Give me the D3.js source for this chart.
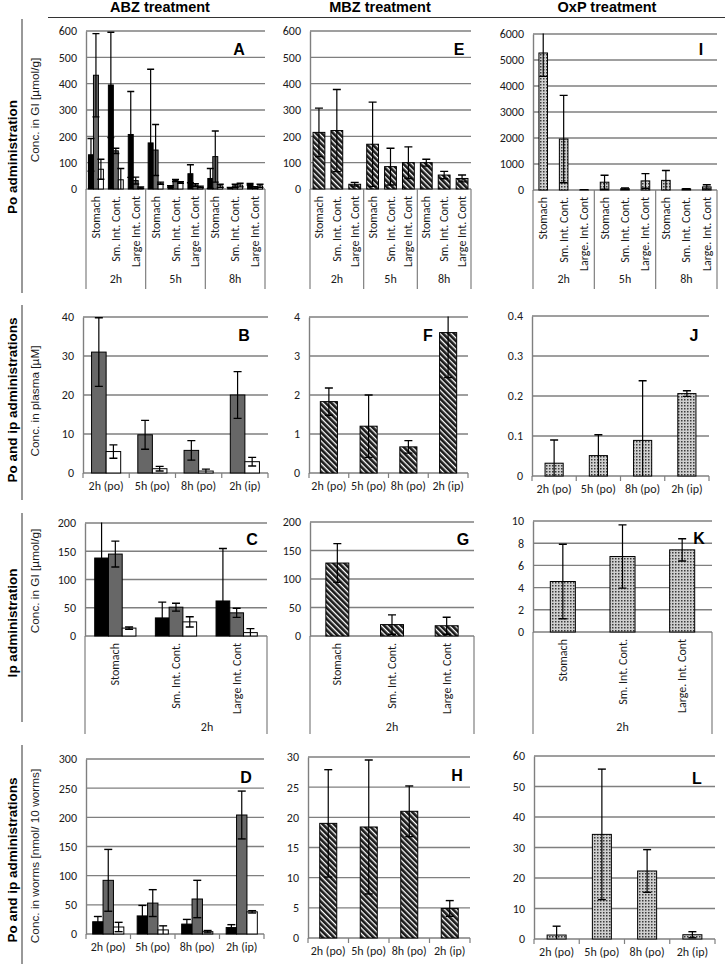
<!DOCTYPE html>
<html><head><meta charset="utf-8">
<script src="https://cdn.jsdelivr.net/npm/d3@7"></script>
<style>body{margin:0;background:#fff}svg{display:block}</style>
</head><body>
<svg id="c" width="725" height="964"></svg>
<script>
// ---------- labels ----------
const treatments = ["ABZ treatment", "MBZ treatment", "OxP treatment"];
const rowTitles = ["Po administration", "Po and ip administrations", "Ip administration", "Po and ip administrations"];
const yTitles = ["Conc. in GI [µmol/g]", "Conc. in plasma [µM]", "Conc. in GI [µmol/g]", "Conc. in worms [nmol/ 10 worms]"];
const giSites = ["Stomach", "Sm. Int. Cont.", "Large Int. Cont"];
const giSitesOxP = ["Stomach", "Sm. Int. Cont.", "Large. Int. Cont"];
const hours = ["2h", "5h", "8h"];
const hoursIp = ["2h"];
const timepoints = ["2h (po)", "5h (po)", "8h (po)", "2h (ip)"];

// ---------- tick values ----------
const ticksA = [0, 100, 200, 300, 400, 500, 600];
const ticksE = [0, 100, 200, 300, 400, 500, 600];
const ticksI = [0, 1000, 2000, 3000, 4000, 5000, 6000];
const ticksB = [0, 10, 20, 30, 40];
const ticksF = [0, 1, 2, 3, 4];
const ticksJ = [0, 0.1, 0.2, 0.3, 0.4];
const ticksC = [0, 50, 100, 150, 200];
const ticksG = [0, 50, 100, 150, 200];
const ticksK = [0, 2, 4, 6, 8, 10];
const ticksD = [0, 50, 100, 150, 200, 250, 300];
const ticksH = [0, 5, 10, 15, 20, 25, 30];
const ticksL = [0, 10, 20, 30, 40, 50, 60];

// ---------- values (mean) and SD ----------
// A: ABZ po, GI (2h,5h,8h x Stomach, Sm, Large) - three series
const A_s1 = [130, 395, 207, 175, 10, 58, 40, 3, 18];
const A_s1_sd = [62, 200, 163, 280, 3, 34, 38, 3, 3];
const A_s2 = [432, 145, 32, 148, 32, 15, 123, 12, 5];
const A_s2_sd = [158, 10, 13, 97, 4, 5, 97, 6, 4];
const A_s3 = [75, 35, 5, 22, 25, 8, 12, 15, 12];
const A_s3_sd = [38, 43, 3, 4, 3, 3, 6, 7, 6];
// E: MBZ po, GI
const E_v = [215, 222, 18, 170, 85, 100, 100, 53, 40];
const E_sd = [92, 156, 7, 160, 70, 60, 13, 14, 13];
// I: OxP po, GI
const I_v = [5270, 1960, 5, 300, 50, 350, 370, 40, 120];
const I_sd = [900, 1680, 5, 270, 30, 280, 380, 10, 80];
// B: ABZ plasma
const B_s2 = [31, 9.8, 5.8, 20];
const B_s2_sd = [8.8, 3.7, 2.5, 6];
const B_s3 = [5.5, 1.1, 0.5, 2.9];
const B_s3_sd = [1.7, 0.6, 0.5, 1.1];
// F: MBZ plasma
const F_v = [1.83, 1.2, 0.67, 3.6];
const F_sd = [0.35, 0.8, 0.16, 1.15];
// J: OxP plasma
const J_v = [0.032, 0.051, 0.089, 0.206];
const J_sd = [0.058, 0.052, 0.149, 0.007];
// C: ABZ ip, GI
const C_s1 = [138, 32, 62];
const C_s1_sd = [70, 28, 93];
const C_s2 = [145, 51, 41];
const C_s2_sd = [23, 7, 8];
const C_s3 = [14, 25, 6];
const C_s3_sd = [2, 9, 7];
// G: MBZ ip, GI
const G_v = [128, 20, 18];
const G_sd = [34, 17, 15];
// K: OxP ip, GI
const K_v = [4.55, 6.8, 7.4];
const K_sd = [3.35, 2.85, 1.0];
// D: ABZ worms
const D_s1 = [21, 31, 17, 11];
const D_s1_sd = [9, 18, 8, 5];
const D_s2 = [92, 53, 60, 204];
const D_s2_sd = [53, 23, 32, 41];
const D_s3 = [12, 7, 4, 38];
const D_s3_sd = [8, 7, 2, 2];
// H: MBZ worms
const H_v = [19, 18.4, 21, 4.9];
const H_sd = [8.9, 11.1, 4.2, 1.3];
// L: OxP worms
const L_v = [1.3, 34.3, 22.3, 1.4];
const L_sd = [2.9, 21.4, 7, 1];

// ---------- drawing ----------
const svg = d3.select("#c");
const SANS = "'Liberation Sans', Arial, sans-serif";
const CAL = "Carlito, Calibri, Lato, 'Open Sans', sans-serif";
const GRID = "#7f7f7f";

const defs = svg.append("defs");
const hatch = defs.append("pattern").attr("id", "hatch").attr("patternUnits", "userSpaceOnUse")
  .attr("width", 4).attr("height", 4).attr("patternTransform", "rotate(45)");
hatch.append("rect").attr("width", 4).attr("height", 4).attr("fill", "#1a1a1a");
hatch.append("rect").attr("width", 4).attr("height", 1.3).attr("fill", "#ffffff");
const dots = defs.append("pattern").attr("id", "dots").attr("patternUnits", "userSpaceOnUse")
  .attr("width", 3).attr("height", 3);
dots.append("rect").attr("width", 3).attr("height", 3).attr("fill", "#cfcfcf");
dots.append("rect").attr("width", 1.5).attr("height", 1.5).attr("fill", "#3c3c3c");

const FILL_BLACK = "#000000", FILL_GRAY = "#676767", FILL_WHITE = "#ffffff";
const FILL_HATCH = "url(#hatch)", FILL_DOTS = "url(#dots)";

let clipId = 0;
function panel(p) {
  const g = svg.append("g");
  const y = d3.scaleLinear().domain([0, p.max]).range([p.y0, p.y1]);
  const x = d3.scaleBand().domain(p.cats.map((c, i) => i)).range([p.x0, p.x1]);
  const nS = p.series.length;
  const bw = x.bandwidth() * p.frac / nS;
  const off = x.bandwidth() * (1 - p.frac) / 2;

  // gridlines
  g.selectAll(null).data(p.ticks.filter(t => t > 0)).join("line")
    .attr("x1", p.x0).attr("x2", p.x1)
    .attr("y1", d => y(d)).attr("y2", d => y(d))
    .attr("stroke", GRID).attr("stroke-width", 1.4);

  // y axis
  const ax = g.append("g").attr("transform", `translate(${p.x0},0)`)
    .call(d3.axisLeft(y).tickValues(p.ticks).tickSizeInner(0).tickSizeOuter(0).tickPadding(9).tickFormat(d3.format("")));
  ax.select(".domain").attr("stroke", GRID).attr("stroke-width", 1.4);
  ax.selectAll("text").attr("font-family", CAL).attr("font-size", 12).attr("fill", "#1a1a1a");

  // baseline
  g.append("line").attr("x1", p.x0).attr("x2", p.x1).attr("y1", p.y0).attr("y2", p.y0)
    .attr("stroke", GRID).attr("stroke-width", 1.4);

  // bars
  p.series.forEach((s, si) => {
    g.selectAll(null).data(s.v).join("rect")
      .attr("x", (d, i) => x(i) + off + si * bw)
      .attr("width", bw)
      .attr("y", d => y(d))
      .attr("height", d => p.y0 - y(d))
      .attr("fill", s.fill).attr("stroke", "#000").attr("stroke-width", 1);
  });

  // error bars (clipped to plot area)
  const cid = "clip" + (clipId++);
  defs.append("clipPath").attr("id", cid).append("rect")
    .attr("x", p.x0 - 20).attr("y", p.y1 - 0.5).attr("width", p.x1 - p.x0 + 40).attr("height", p.y0 - p.y1 + 0.5);
  const eg = g.append("g").attr("clip-path", `url(#${cid})`);
  const cap = p.cap || 3.5;
  p.series.forEach((s, si) => {
    s.v.forEach((v, i) => {
      const cx = x(i) + off + si * bw + bw / 2;
      const hi = y(v + s.sd[i]), lo = y(Math.max(0, v - s.sd[i]));
      eg.append("line").attr("x1", cx).attr("x2", cx).attr("y1", hi).attr("y2", lo)
        .attr("stroke", "#000").attr("stroke-width", 1.2);
      eg.append("line").attr("x1", cx - cap).attr("x2", cx + cap).attr("y1", hi).attr("y2", hi)
        .attr("stroke", "#000").attr("stroke-width", 1.4);
      if (v - s.sd[i] > 0)
        eg.append("line").attr("x1", cx - cap).attr("x2", cx + cap).attr("y1", lo).attr("y2", lo)
          .attr("stroke", "#000").attr("stroke-width", 1.4);
    });
  });

  // category axis
  if (p.mode === "flat") {
    g.selectAll(null).data(d3.range(p.cats.length + 1)).join("line")
      .attr("x1", i => p.x0 + i * x.step()).attr("x2", i => p.x0 + i * x.step())
      .attr("y1", p.y0).attr("y2", p.y0 + 5).attr("stroke", GRID).attr("stroke-width", 1.2);
    g.selectAll(null).data(p.cats).join("text")
      .attr("x", (d, i) => x(i) + x.bandwidth() / 2).attr("y", p.y0 + 17)
      .attr("text-anchor", "middle").attr("font-family", CAL).attr("font-size", 12).attr("fill", "#1a1a1a")
      .text(d => d);
  } else {
    g.selectAll(null).data(p.cats).join("text")
      .attr("transform", (d, i) => `translate(${x(i) + x.bandwidth() / 2},${p.y0 + 7}) rotate(-90)`)
      .attr("text-anchor", "end").attr("dominant-baseline", "central")
      .attr("font-family", CAL).attr("font-size", 12).attr("fill", "#1a1a1a")
      .text(d => d);
    const per = p.cats.length / p.groups.length;
    const gw = x.step() * per;
    g.selectAll(null).data(d3.range(p.groups.length + 1)).join("line")
      .attr("x1", i => p.x0 + i * gw).attr("x2", i => p.x0 + i * gw)
      .attr("y1", p.y0).attr("y2", p.gBottom).attr("stroke", GRID).attr("stroke-width", 1.2);
    g.selectAll(null).data(p.groups).join("text")
      .attr("x", (d, i) => (p.gLabelX != null ? p.gLabelX : p.x0 + (i + 0.5) * gw))
      .attr("y", p.gLabelY)
      .attr("text-anchor", "middle").attr("font-family", CAL).attr("font-size", 12).attr("fill", "#1a1a1a")
      .text(d => d);
  }

  // panel letter
  g.append("text").attr("x", p.lx).attr("y", p.ly).attr("text-anchor", "middle")
    .attr("dominant-baseline", "central").attr("font-family", SANS).attr("font-weight", "bold")
    .attr("font-size", 16).text(p.letter);
}

const gi9 = hours.flatMap(() => giSites);
const gi9x = hours.flatMap(() => giSitesOxP);

// Row 1
panel({letter: "A", lx: 239, ly: 49, x0: 86, x1: 265, y1: 31, y0: 189, max: 600, ticks: ticksA, cats: gi9, groups: hours,
  mode: "rot", gBottom: 289, gLabelY: 283, frac: 0.75, cap: 3.5,
  series: [{v: A_s1, sd: A_s1_sd, fill: FILL_BLACK}, {v: A_s2, sd: A_s2_sd, fill: FILL_GRAY}, {v: A_s3, sd: A_s3_sd, fill: FILL_WHITE}]});
panel({letter: "E", lx: 459, ly: 49, x0: 310, x1: 471, y1: 31, y0: 189, max: 600, ticks: ticksE, cats: gi9, groups: hours,
  mode: "rot", gBottom: 289, gLabelY: 283, frac: 0.66, cap: 4,
  series: [{v: E_v, sd: E_sd, fill: FILL_HATCH}]});
panel({letter: "I", lx: 701, ly: 49, x0: 533, x1: 717, y1: 34, y0: 190, max: 6000, ticks: ticksI, cats: gi9x, groups: hours,
  mode: "rot", gBottom: 289, gLabelY: 283, frac: 0.42, cap: 4,
  series: [{v: I_v, sd: I_sd, fill: FILL_DOTS}]});

// Row 2
panel({letter: "B", lx: 244, ly: 335, x0: 83, x1: 268, y1: 317, y0: 473, max: 40, ticks: ticksB, cats: timepoints,
  mode: "flat", frac: 0.63, cap: 4,
  series: [{v: B_s2, sd: B_s2_sd, fill: FILL_GRAY}, {v: B_s3, sd: B_s3_sd, fill: FILL_WHITE}]});
panel({letter: "F", lx: 428, ly: 335, x0: 309, x1: 468, y1: 317, y0: 473, max: 4, ticks: ticksF, cats: timepoints,
  mode: "flat", frac: 0.43, cap: 4,
  series: [{v: F_v, sd: F_sd, fill: FILL_HATCH}]});
panel({letter: "J", lx: 694, ly: 335, x0: 532, x1: 709, y1: 316, y0: 476, max: 0.4, ticks: ticksJ, cats: timepoints,
  mode: "flat", frac: 0.41, cap: 4,
  series: [{v: J_v, sd: J_sd, fill: FILL_DOTS}]});

// Row 3
panel({letter: "C", lx: 252, ly: 539, x0: 85, x1: 267, y1: 523, y0: 636, max: 200, ticks: ticksC, cats: giSites, groups: hoursIp,
  mode: "rot", gBottom: 734, gLabelY: 731, gLabelX: 207, frac: 0.68, cap: 4,
  series: [{v: C_s1, sd: C_s1_sd, fill: FILL_BLACK}, {v: C_s2, sd: C_s2_sd, fill: FILL_GRAY}, {v: C_s3, sd: C_s3_sd, fill: FILL_WHITE}]});
panel({letter: "G", lx: 463, ly: 539, x0: 310, x1: 474, y1: 522, y0: 636, max: 200, ticks: ticksG, cats: giSites, groups: hoursIp,
  mode: "rot", gBottom: 734, gLabelY: 731, frac: 0.42, cap: 4,
  series: [{v: G_v, sd: G_sd, fill: FILL_HATCH}]});
panel({letter: "K", lx: 699, ly: 538, x0: 533, x1: 712, y1: 521, y0: 632, max: 10, ticks: ticksK, cats: giSitesOxP, groups: hoursIp,
  mode: "rot", gBottom: 734, gLabelY: 731, frac: 0.42, cap: 4,
  series: [{v: K_v, sd: K_sd, fill: FILL_DOTS}]});

// Row 4
panel({letter: "D", lx: 246, ly: 777, x0: 86, x1: 264, y1: 759, y0: 934, max: 300, ticks: ticksD, cats: timepoints,
  mode: "flat", frac: 0.70, cap: 4,
  series: [{v: D_s1, sd: D_s1_sd, fill: FILL_BLACK}, {v: D_s2, sd: D_s2_sd, fill: FILL_GRAY}, {v: D_s3, sd: D_s3_sd, fill: FILL_WHITE}]});
panel({letter: "H", lx: 457, ly: 775, x0: 308, x1: 470, y1: 757, y0: 938, max: 30, ticks: ticksH, cats: timepoints,
  mode: "flat", frac: 0.42, cap: 4,
  series: [{v: H_v, sd: H_sd, fill: FILL_HATCH}]});
panel({letter: "L", lx: 697, ly: 778, x0: 534, x1: 715, y1: 756, y0: 939, max: 60, ticks: ticksL, cats: timepoints,
  mode: "flat", frac: 0.42, cap: 4,
  series: [{v: L_v, sd: L_sd, fill: FILL_DOTS}]});

// ---------- frame: headers, row titles, y titles ----------
const headerX = [160, 380, 607];
svg.selectAll(null).data(treatments).join("text")
  .attr("x", (d, i) => headerX[i]).attr("y", 12).attr("text-anchor", "middle")
  .attr("font-family", SANS).attr("font-weight", "bold").attr("font-size", 14.5).text(d => d);
svg.append("line").attr("x1", 48).attr("x2", 725).attr("y1", 17.5).attr("y2", 17.5).attr("stroke", "#333").attr("stroke-width", 1);

const rowSeg = [[19, 293], [305, 500], [513, 722], [745, 964]];
const rowMid = [157, 400, 623, 860];
const yTitleMid = [110, 401, 581, 856];
rowSeg.forEach((s, i) => {
  svg.append("line").attr("x1", 22).attr("x2", 22).attr("y1", s[0]).attr("y2", s[1]).attr("stroke", "#333").attr("stroke-width", 1);
});
svg.selectAll(null).data(rowTitles).join("text")
  .attr("transform", (d, i) => `translate(12,${rowMid[i]}) rotate(-90)`)
  .attr("text-anchor", "middle").attr("dominant-baseline", "central")
  .attr("font-family", SANS).attr("font-weight", "bold").attr("font-size", 13.5).text(d => d);
svg.selectAll(null).data(yTitles).join("text")
  .attr("transform", (d, i) => `translate(35,${yTitleMid[i]}) rotate(-90)`)
  .attr("text-anchor", "middle").attr("dominant-baseline", "central")
  .attr("font-family", SANS).attr("font-size", 11.8).attr("fill", "#1a1a1a").text(d => d);
</script>
</body></html>
